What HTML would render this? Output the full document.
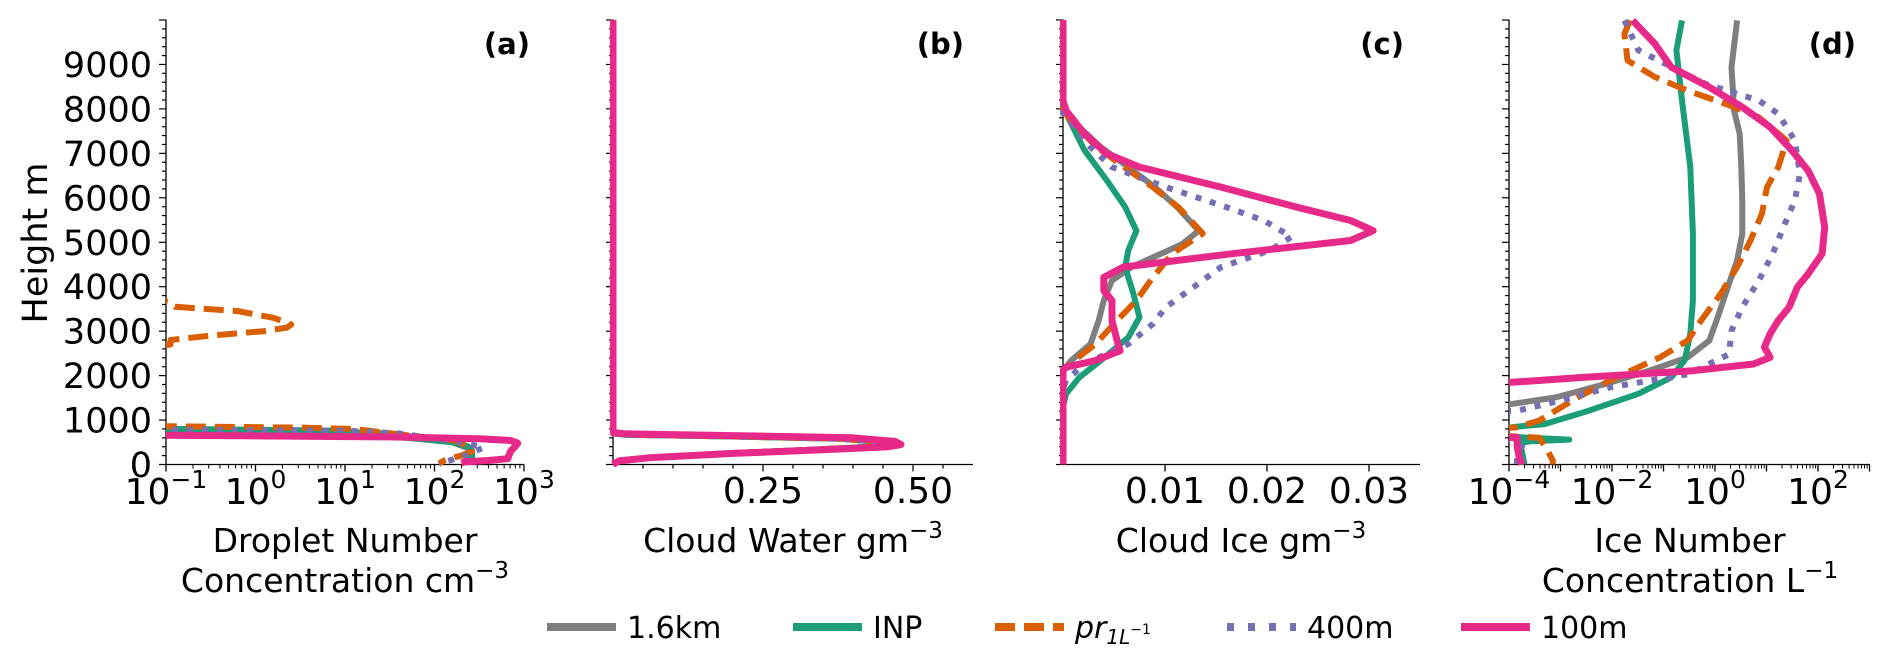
<!DOCTYPE html>
<html><head><meta charset="utf-8">
<style>
html,body{margin:0;padding:0;background:#fff;}
svg{display:block;font-family:"DejaVu Sans","Liberation Sans",sans-serif;}
</style></head>
<body>
<svg id="fig" width="1892" height="663" viewBox="0 0 1892 663">
<defs>
<clipPath id="cpA"><rect x="166" y="15" width="358" height="452"/></clipPath>
<clipPath id="cpB"><rect x="610" y="15" width="363" height="452"/></clipPath>
<clipPath id="cpC"><rect x="1060" y="15" width="360" height="452"/></clipPath>
<clipPath id="cpD"><rect x="1509" y="15" width="361" height="452"/></clipPath>
</defs>
<g id="root"></g>
</svg>
<script>
// ---- data (height m, value) ----
const seriesNames = ["1.6km","INP","pr","400m","100m"];
// Panel (a) droplet number, log10 cm-3
const aGrey  = [[780,-1.1],[760,-1],[700,1.5],[500,2.2],[350,2.4],[100,2.4]];
const aGreen = [[820,-1.1],[800,-1],[760,1],[640,1.5],[500,2.2],[400,2.38],[300,2.42],[150,2.42],[100,2.4]];
const aOrangeUpper = [[3750,-1.2],[3650,-0.95],[3550,-0.9],[3450,-0.2],[3300,0.2],[3150,0.4],[3080,0.35],[3000,0.1],[2900,-0.5],[2800,-0.95],[2700,-0.95],[2650,-1.2]];
const aOrange = [[900,-1.1],[860,-1],[830,0.5],[800,1.1],[700,1.5],[550,2.2],[400,2.4],[300,2.42],[200,2.3],[150,2.2],[80,2.1],[20,2.05]];
const aPurple = [[800,-1.1],[780,-1],[760,1],[700,1.6],[500,2.3],[380,2.55],[300,2.45],[200,2.35],[50,2.1],[10,2.05]];
const aPink = [[700,-1.1],[660,-1],[620,1.5],[580,2.5],[540,2.85],[480,2.93],[400,2.9],[300,2.85],[200,2.83],[130,2.82],[90,2.6],[60,2.35],[40,2.3]];
// Panel (b) cloud water g m-3
const bOther = [[10000,0],[700,0],[670,0.02],[630,0.2],[580,0.38],[510,0.44],[450,0.45],[400,0.43],[330,0.33],[250,0.19],[150,0.06],[80,0.01],[0,0]];
const bPink = [[10000,0],[720,0],[690,0.02],[650,0.2],[600,0.4],[520,0.47],[450,0.48],[400,0.46],[330,0.35],[250,0.2],[150,0.06],[80,0.01],[0,0]];
// Panel (c) cloud ice g m-3
const cGrey = [[10000,0],[7960,0],[7590,0.0016],[7140,0.0037],[6690,0.0064],[6240,0.009],[5790,0.0112],[5260,0.0133],[4960,0.0117],[4740,0.0096],[4440,0.0067],[4140,0.0048],[3690,0.004],[3240,0.0035],[2710,0.0027],[2340,0.0008],[2110,0],[0,0]];
const cGreen = [[10000,0],[8100,0],[7810,0.0005],[7070,0.0021],[6390,0.0043],[5790,0.0061],[5260,0.0072],[4820,0.0064],[4440,0.0061],[3840,0.0069],[3310,0.0075],[2860,0.0064],[2340,0.0037],[1960,0.0016],[1590,0.0003],[1300,0],[0,0]];
const cOrange = [[10000,0],[7960,0],[7590,0.0014],[7140,0.0033],[6690,0.006],[6240,0.0088],[5790,0.0113],[5200,0.0137],[4740,0.0107],[4210,0.0088],[3690,0.0072],[3240,0.0053],[2710,0.0032],[2340,0.0011],[2110,0],[0,0]];
const cPurple = [[10000,0],[7900,0],[7590,0.0011],[7140,0.0027],[6690,0.0048],[6240,0.0101],[5790,0.016],[5490,0.0197],[5120,0.0224],[4820,0.0203],[4440,0.0155],[3990,0.0128],[3540,0.0101],[3160,0.0088],[2710,0.0064],[2260,0.0021],[1890,0.0003],[1700,0],[0,0]];
const cPink = [[10000,0],[8190,0],[7960,0.0003],[7440,0.0021],[6990,0.0043],[6690,0.0075],[6240,0.0155],[5790,0.0229],[5490,0.0282],[5260,0.0304],[5040,0.0282],[4740,0.0165],[4440,0.0059],[4210,0.004],[3910,0.004],[3690,0.0048],[3240,0.0048],[2790,0.0053],[2560,0.0056],[2340,0.0032],[2190,0.0003],[2110,0],[0,0]];
// Panel (d) ice number, log10 L-1
const dGrey = [[9990,0.43],[8940,0.32],[7960,0.37],[7440,0.48],[6690,0.51],[5940,0.53],[5190,0.53],[4590,0.43],[4060,0.27],[3310,0.05],[2790,-0.11],[2410,-0.53],[2110,-1.28],[1810,-2.13],[1510,-3.09],[1360,-3.95],[1340,-4.3]];
const dGreen = [[9990,-0.64],[9320,-0.75],[8190,-0.64],[6690,-0.48],[5190,-0.43],[3690,-0.43],[2940,-0.48],[2340,-0.59],[1960,-0.85],[1590,-1.49],[1210,-2.45],[910,-3.31],[840,-3.95],[820,-4.3]];
const dGreenLow = [[640,-4.2],[600,-3.6],[560,-2.83],[520,-3.6],[480,-3.8],[300,-3.75],[0,-3.7]];
const dOrange = [[9990,-1.65],[9690,-1.76],[9090,-1.7],[8720,-1.17],[8410,-0.53],[8110,0.21],[7810,0.85],[7290,1.39],[6690,1.23],[6240,1.01],[5640,0.91],[5040,0.69],[4440,0.43],[3840,0.11],[3240,-0.27],[2790,-0.53],[2410,-1.07],[1960,-1.92],[1510,-2.67],[990,-3.41],[840,-3.84],[800,-4.3]];
const dOrangeLow = [[650,-4.2],[600,-3.41],[310,-3.25],[90,-3.15],[0,-3.15]];
const dPurple = [[9990,-1.76],[9320,-1.49],[8570,-0.2],[8190,0.85],[7890,1.23],[7290,1.55],[6540,1.65],[5940,1.55],[5340,1.33],[4740,1.12],[4140,0.85],[3540,0.53],[3010,0.32],[2480,0.27],[2030,-0.53],[1740,-2.03],[1440,-2.99],[1210,-3.84],[1190,-4.3]];
const dPurpleLow = [[600,-4.2],[540,-3.7],[160,-3.84],[0,-3.85]];
const dPink = [[9990,-1.6],[9470,-1.17],[8940,-0.85],[8490,-0.11],[8040,0.53],[7590,1.07],[7070,1.49],[6610,1.81],[6090,2.03],[5340,2.13],[4740,2.08],[4290,1.81],[3990,1.6],[3540,1.44],[3240,1.23],[2940,1.07],[2640,0.96],[2410,1.07],[2260,0.75],[2110,-0.43],[1960,-2.56],[1850,-3.95],[1840,-4.3]];
const dPinkLow = [[620,-4.2],[600,-3.84],[390,-3.84],[160,-3.8],[0,-3.75]];

const yTicks = [0,1000,2000,3000,4000,5000,6000,7000,8000,9000];
const aTicks = [-1,0,1,2,3];
const bTicks = [0.25,0.5];
const bTickLabels = ["0.25","0.50"];
const cTicks = [0.01,0.02,0.03];
const cTickLabels = ["0.01","0.02","0.03"];
const dTicks = [-4,-2,0,2];

const NS="http://www.w3.org/2000/svg";
const root=document.getElementById('root');
function mk(tag,attrs,parent){const e=document.createElementNS(NS,tag);for(const k in attrs)e.setAttribute(k,attrs[k]);(parent||root).appendChild(e);return e;}
const Y0=464.5, YS=0.04445;
function yS(h){return Y0-h*YS;}
const panels={
 a:{x0:166,x1:524,lab:530,f:v=>166+(v+1)*89.5},
 b:{x0:613,x1:973,lab:964,f:v=>613+v*600},
 c:{x0:1063,x1:1420,lab:1404,f:v=>1063+v*10200},
 d:{x0:1509,x1:1870,lab:1856,f:v=>1509+(v+4)*51.5}
};
const colors={grey:"#7f7f7f",green:"#1b9e77",orange:"#d95f02",purple:"#7570b3",pink:"#e7298a"};

function drawAxes(key,label){
 const p=panels[key];
 const g=mk('g',{});
 
 
 mk('line',{x1:p.x0,y1:19.5,x2:p.x0,y2:Y0,stroke:'#000','stroke-width':1.3},g);
 mk('line',{x1:p.x0,y1:Y0,x2:p.x1,y2:Y0,stroke:'#000','stroke-width':1.3},g);
 for(let h=0;h<=10000;h+=200){
  const major=h%1000===0;
  mk('line',{x1:p.x0,y1:yS(h),x2:p.x0-(major?7:4),y2:yS(h),stroke:'#000','stroke-width':1.2},g);
 }
 const t=mk('text',{x:p.lab,y:54,'font-size':29,'font-weight':'bold','text-anchor':'end'},g);
 t.textContent=label;
 
 
 return g;
}
function series(key,data,color,style,clip,name){
 const p=panels[key];
 const pts=data.map(d=>p.f(d[1]).toFixed(1)+','+yS(d[0]).toFixed(1)).join(' ');
 const attrs={points:pts,fill:'none',stroke:color,'stroke-width':style==='pink'?7:6,'stroke-linejoin':'round','clip-path':'url(#'+clip+')'};
 if(style==='dash'){attrs['stroke-dasharray']='20 9';}
 if(style==='dot'){attrs['stroke-dasharray']='6 9';}
 const e=mk('polyline',attrs);
 
 
}
function logLabel(x,exp,g){
 const t=mk('text',{x:x,y:504,'font-size':36,'text-anchor':'middle'},g);
 const s1=mk('tspan',{},t);s1.textContent='10';
 const s2=mk('tspan',{dy:-16,'font-size':25},t);s2.textContent=(exp<0?'\u2212'+(-exp):''+exp);
 return t;
}

// Panel a
const ga=drawAxes('a','(a)');
yTicks.forEach(h=>{const t=mk('text',{x:152,y:yS(h)+12.5,'font-size':35,'text-anchor':'end'},ga);t.textContent=h;
 
 });
for(let d=-1;d<3;d++){for(let m=2;m<10;m++){const x=panels.a.f(d+Math.log10(m));mk('line',{x1:x,y1:Y0,x2:x,y2:Y0+4,stroke:'#000','stroke-width':1},ga);}}
aTicks.forEach(v=>{const x=panels.a.f(v);mk('line',{x1:x,y1:Y0,x2:x,y2:Y0+7,stroke:'#000','stroke-width':1.3},ga);const t=logLabel(x,v,ga);
 
 });
let yl=mk('text',{x:0,y:0,'font-size':35,'text-anchor':'middle',transform:'translate(47,243) rotate(-90)'});
yl.textContent='Height m';


function xTitle(x,lines){
 const t=mk('text',{x:x,y:552,'font-size':33,'text-anchor':'middle'});
 lines.forEach((ln,i)=>{const s=mk('tspan',{x:x,dy:i?40:0},t);s.textContent=ln[0];if(ln[1]){const q=mk('tspan',{dy:-14,'font-size':23},t);q.textContent=ln[1];}});
 return t;
}
let xa=xTitle(345,[['Droplet Number'],['Concentration cm','\u22123']]);


series('a',aGrey,colors.grey,'solid','cpA','line-a-1.6km');
series('a',aGreen,colors.green,'solid','cpA','line-a-inp');
series('a',aOrangeUpper,colors.orange,'dash','cpA','line-a-pr-upper');
series('a',aOrange,colors.orange,'dash','cpA','line-a-pr');
series('a',aPurple,colors.purple,'dot','cpA','line-a-400m');
series('a',aPink,colors.pink,'pink','cpA','line-a-100m');

// Panel b
const gb=drawAxes('b','(b)');
for(let v=0.05;v<0.6;v+=0.05){const x=panels.b.f(v);const maj=bTicks.some(b=>Math.abs(b-v)<1e-6);mk('line',{x1:x,y1:Y0,x2:x,y2:Y0+(maj?7:4),stroke:'#000','stroke-width':1.2},gb);}
bTicks.forEach((v,i)=>{const t=mk('text',{x:panels.b.f(v),y:503,'font-size':36,'text-anchor':'middle'},gb);t.textContent=bTickLabels[i];
 
 });
let xb=xTitle(793,[['Cloud Water gm','\u22123']]);


series('b',bOther,colors.grey,'solid','cpB','line-b-1.6km');
series('b',bOther,colors.green,'solid','cpB','line-b-inp');
series('b',bOther,colors.orange,'dash','cpB','line-b-pr');
series('b',bOther,colors.purple,'dot','cpB','line-b-400m');
series('b',bPink,colors.pink,'pink','cpB','line-b-100m');

// Panel c
const gc=drawAxes('c','(c)');
cTicks.forEach((v,i)=>{const x=panels.c.f(v);mk('line',{x1:x,y1:Y0,x2:x,y2:Y0+7,stroke:'#000','stroke-width':1.3},gc);const t=mk('text',{x:x,y:503,'font-size':36,'text-anchor':'middle'},gc);t.textContent=cTickLabels[i];
 
 });
let xc=xTitle(1241,[['Cloud Ice gm','\u22123']]);


series('c',cGrey,colors.grey,'solid','cpC','line-c-1.6km');
series('c',cGreen,colors.green,'solid','cpC','line-c-inp');
series('c',cOrange,colors.orange,'dash','cpC','line-c-pr');
series('c',cPurple,colors.purple,'dot','cpC','line-c-400m');
series('c',cPink,colors.pink,'pink','cpC','line-c-100m');

// Panel d
const gd=drawAxes('d','(d)');
for(let d=-4;d<3;d++){for(let m=2;m<10;m++){const x=panels.d.f(d+Math.log10(m));mk('line',{x1:x,y1:Y0,x2:x,y2:Y0+4,stroke:'#000','stroke-width':1},gd);}}
for(let d=-4;d<=3;d++){const x=panels.d.f(d);mk('line',{x1:x,y1:Y0,x2:x,y2:Y0+7,stroke:'#000','stroke-width':1.3},gd);}
dTicks.forEach(v=>{const t=logLabel(panels.d.f(v),v,gd);
 
 });
let xd=xTitle(1690,[['Ice Number'],['Concentration L','\u22121']]);


series('d',dGrey,colors.grey,'solid','cpD','line-d-1.6km');
series('d',dGreen,colors.green,'solid','cpD','line-d-inp');
series('d',dGreenLow,colors.green,'solid','cpD','line-d-inp-low');
series('d',dOrange,colors.orange,'dash','cpD','line-d-pr');
series('d',dOrangeLow,colors.orange,'dash','cpD','line-d-pr-low');
series('d',dPurple,colors.purple,'dot','cpD','line-d-400m');
series('d',dPurpleLow,colors.purple,'dot','cpD','line-d-400m-low');
series('d',dPink,colors.pink,'pink','cpD','line-d-100m');
series('d',dPinkLow,colors.pink,'pink','cpD','line-d-100m-low');

// Legend
const lg=mk('g',{});


const legItems=[[547,colors.grey,'solid','1.6km'],[793,colors.green,'solid','INP'],[995,colors.orange,'dash','pr'],[1227,colors.purple,'dot','400m'],[1461,colors.pink,'solid','100m']];
legItems.forEach(it=>{
 const e=mk('g',{},lg);
 
 
 const la={x1:it[0],y1:627,x2:it[0]+69,y2:627,stroke:it[1],'stroke-width':8};
 if(it[2]==='dash')la['stroke-dasharray']='20 9';
 if(it[2]==='dot')la['stroke-dasharray']='7 14';
 mk('line',la,e);
 const t=mk('text',{x:it[0]+80,y:638,'font-size':30},e);
 if(it[3]==='pr'){
  const a=mk('tspan',{'font-style':'italic'},t);a.textContent='pr';
  const b=mk('tspan',{'font-size':20,dy:6,'font-style':'italic'},t);b.textContent='1L';
  const c=mk('tspan',{'font-size':14,dy:-10},t);c.textContent='\u22121';
 } else t.textContent=it[3];
});
</script>
</body></html>
